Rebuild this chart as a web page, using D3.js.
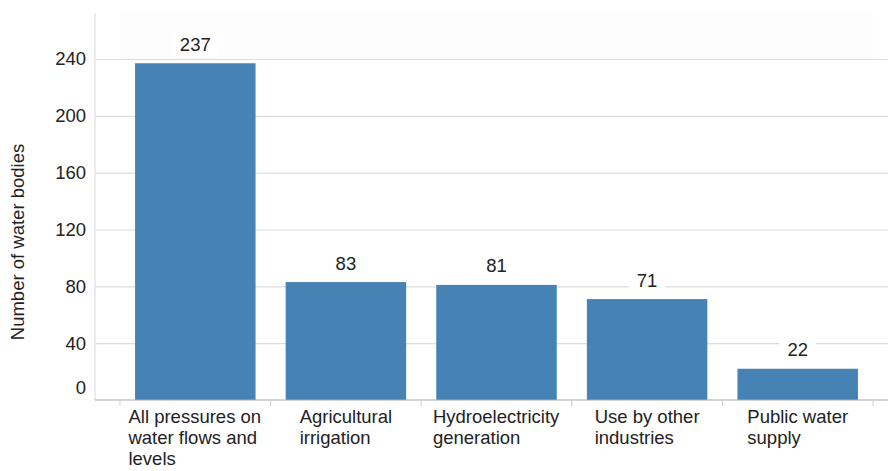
<!DOCTYPE html>
<html><head><meta charset="utf-8">
<script src="https://cdn.jsdelivr.net/npm/d3@7"></script>
<style>
html,body{margin:0;padding:0;background:#fff;}
svg{display:block;font-family:"Liberation Sans",Arial,sans-serif;}
</style></head>
<body><svg id="chart" width="888" height="471"></svg>
<script>
const categories = [
  ["All pressures on","water flows and","levels"],
  ["Agricultural","irrigation"],
  ["Hydroelectricity","generation"],
  ["Use by other","industries"],
  ["Public water","supply"]
];
const values = [237, 83, 81, 71, 22];
const yTicks = [0, 40, 80, 120, 160, 200, 240];
const yTitle = "Number of water bodies";

const svg = d3.select("#chart");
const W = 888, H = 471;
const m = {left: 95, right: 0, top: 13, bottom: 71};
const plotLeft = 120, plotRight = 873;
const FS = 18.5;

const x = d3.scaleBand().domain(d3.range(categories.length))
  .range([plotLeft, plotRight]).paddingInner(0.2).paddingOuter(0.1);
const y = d3.scaleLinear().domain([0, 240]).range([400, 59]);

// faint top panel
svg.append("rect").attr("x", plotLeft).attr("y", m.top).attr("width", plotRight - plotLeft)
  .attr("height", y(240) - m.top).attr("fill", "#fdfdfd");

// gridlines
const grid = svg.append("g").attr("transform", `translate(${m.left},0)`)
  .call(d3.axisLeft(y).tickValues(yTicks.filter(d => d > 0)).tickSize(-(W - m.left)).tickFormat(""));
grid.select(".domain").remove();
grid.selectAll("line").attr("stroke", "#dcdcdc").attr("stroke-width", 1.2);

// y axis line
svg.append("line").attr("x1", m.left).attr("x2", m.left).attr("y1", m.top).attr("y2", 400)
  .attr("stroke", "#e0e0e0").attr("stroke-width", 1.2);

// y tick labels (0 lifted above the baseline)
svg.append("g").selectAll("text").data(yTicks).join("text")
  .attr("x", 86).attr("y", d => y(d) - (d === 0 ? 12 : 0)).attr("dy", "0.35em")
  .attr("text-anchor", "end").attr("font-size", FS).attr("fill", "#222")
  .text(d => d);

// y title
svg.append("text").attr("transform", `translate(24,242) rotate(-90)`)
  .attr("text-anchor", "middle").attr("font-size", FS).attr("fill", "#222").text(yTitle);

// bars
svg.append("g").selectAll("rect").data(values).join("rect")
  .attr("x", (d, i) => x(i)).attr("y", d => y(d))
  .attr("width", x.bandwidth()).attr("height", d => y(0) - y(d))
  .attr("fill", "#4682b4");

// x axis
const xAxis = svg.append("g").attr("transform", "translate(0,400)");
xAxis.append("line").attr("x1", m.left).attr("x2", W).attr("y1", 0).attr("y2", 0)
  .attr("stroke", "#aaa").attr("stroke-width", 1.2);
const bounds = d3.range(categories.length + 1).map(i => plotLeft + i * x.step());
xAxis.selectAll("line.tk").data(bounds).join("line").attr("class", "tk")
  .attr("x1", d => d).attr("x2", d => d).attr("y1", 0).attr("y2", 6)
  .attr("stroke", "#ccc");

// x labels
const lab = svg.append("g").selectAll("g").data(categories).join("g");
lab.each(function(lines, i) {
  const g = d3.select(this);
  const t = g.append("text").attr("font-size", FS).attr("fill", "#222");
  t.selectAll("tspan").data(lines).join("tspan")
    .attr("x", 0).attr("y", (d, j) => 423 + j * 21).text(d => d);
  const w = t.node().getBBox().width;
  t.attr("transform", `translate(${x(i) + x.bandwidth() / 2 - w / 2},0)`);
});

// value labels with white background
const vl = svg.append("g").selectAll("g").data(values).join("g");
vl.each(function(v, i) {
  const g = d3.select(this);
  const cx = x(i) + x.bandwidth() / 2, cy = y(v) - 19;
  const bg = g.append("rect").attr("fill", "#fff");
  const t = g.append("text").attr("x", cx).attr("y", cy).attr("dy", "0.35em")
    .attr("text-anchor", "middle").attr("font-size", FS).attr("fill", "#222").text(v);
  const b = t.node().getBBox();
  bg.attr("x", b.x - 8).attr("y", b.y - 2).attr("width", b.width + 16).attr("height", b.height + 4);
});
</script></body></html>
